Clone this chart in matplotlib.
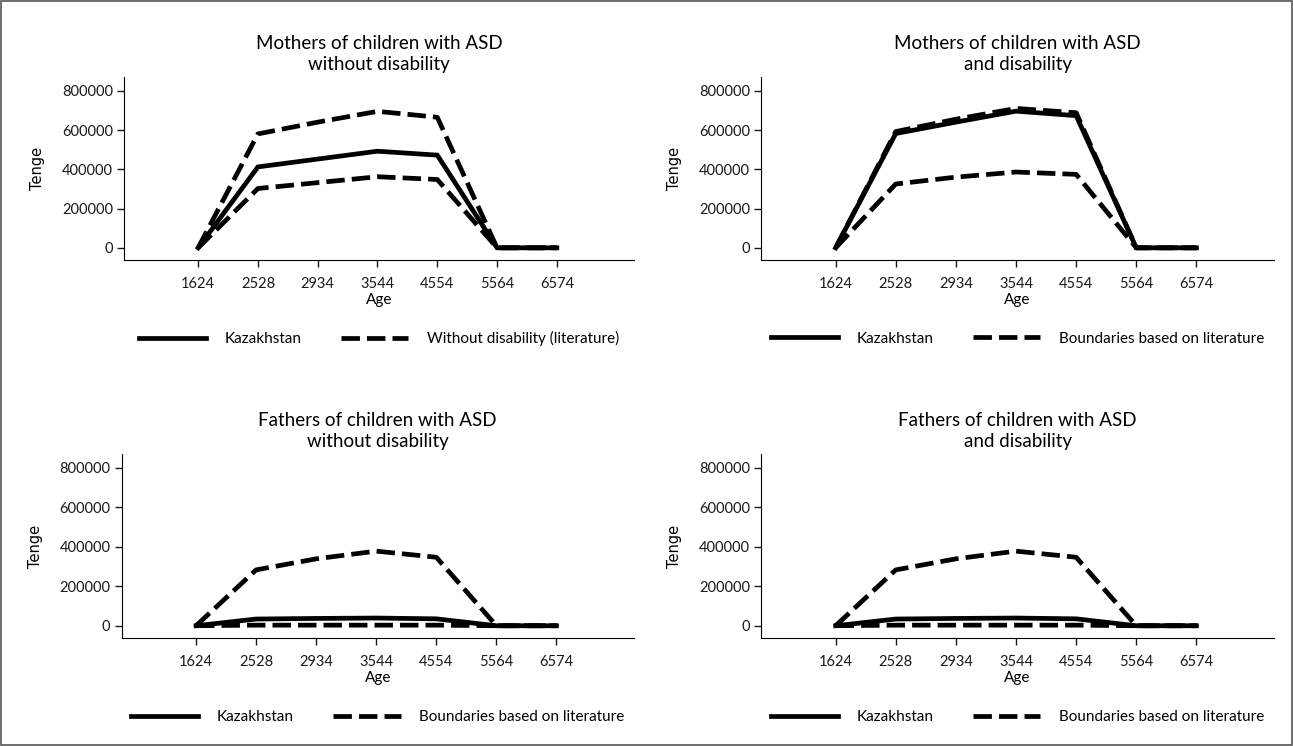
import matplotlib
matplotlib.use("Agg")
import matplotlib.pyplot as plt
from matplotlib.patches import Rectangle

plt.rcParams['font.family'] = ['Lato', 'DejaVu Sans']

ages = ['1624', '2528', '2934', '3544', '4554', '5564', '6574']

# Mothers, without disability
m_wo_kaz = [0, 412000, 452000, 492000, 472000, 0, 0]
m_wo_hi = [0, 580000, 640000, 695000, 665000, 0, 0]
m_wo_lo = [0, 302000, 332000, 362000, 348000, 0, 0]

# Mothers, with disability
m_w_kaz = [0, 582000, 640000, 696000, 673000, 0, 0]
m_w_hi = [0, 592000, 655000, 710000, 688000, 0, 0]
m_w_lo = [0, 325000, 360000, 386000, 374000, 0, 0]

# Fathers, without disability
f_wo_kaz = [0, 34000, 37000, 39000, 35000, 0, 0]
f_wo_hi = [0, 283000, 339000, 378000, 347000, 0, 0]
f_wo_lo = [0, 3000, 3000, 3000, 3000, 0, 0]

# Fathers, with disability
f_w_kaz = [0, 34000, 37000, 39000, 35000, 0, 0]
f_w_hi = [0, 283000, 339000, 378000, 347000, 0, 0]
f_w_lo = [0, 3000, 3000, 3000, 3000, 0, 0]

panels = [
    ("Mothers of children with ASD\nwithout disability", m_wo_kaz, m_wo_hi, m_wo_lo, "Without disability (literature)"),
    ("Mothers of children with ASD\nand disability", m_w_kaz, m_w_hi, m_w_lo, "Boundaries based on literature"),
    ("Fathers of children with ASD\nwithout disability", f_wo_kaz, f_wo_hi, f_wo_lo, "Boundaries based on literature"),
    ("Fathers of children with ASD\nand disability", f_w_kaz, f_w_hi, f_w_lo, "Boundaries based on literature"),
]

# axes rectangles (left, bottom, width, height) in figure fraction
rects = [
    [0.0959, 0.6515, 0.3944, 0.2453],
    [0.5886, 0.6515, 0.3967, 0.2453],
    [0.0940, 0.1448, 0.3963, 0.2466],
    [0.5886, 0.1448, 0.3967, 0.2466],
]

fig = plt.figure(figsize=(12.93, 7.46), dpi=100)
fig.patches.append(Rectangle((0.001, 0.001), 0.998, 0.998, transform=fig.transFigure,
                             fill=False, edgecolor='#555555', lw=1.2))

dash = (0, (3.9, 1.5))
lw = 3.4
x = list(range(len(ages)))

for (title, kaz, hi, lo, lbl), r in zip(panels, rects):
    ax = fig.add_axes(r)
    p1, = ax.plot(x, kaz, color='black', lw=lw, solid_joinstyle='miter')
    p2, = ax.plot(x, hi, color='black', lw=lw, linestyle=dash)
    ax.plot(x, lo, color='black', lw=lw, linestyle=dash)
    ax.set_xlim(-1.24, 7.29)
    ax.set_ylim(-62000, 870000)
    ax.set_xticks(x)
    ax.set_xticklabels(ages)
    ax.set_yticks([0, 200000, 400000, 600000, 800000])
    ax.set_yticklabels(['0', '200000', '400000', '600000', '800000'])
    ax.spines['top'].set_visible(False)
    ax.spines['right'].set_visible(False)
    ax.tick_params(labelsize=10.5, length=5, width=1, pad=3, colors='#1a1a1a')
    ax.tick_params(axis='x', pad=7)
    ax.set_xlabel('Age', fontsize=11, labelpad=2)
    ax.set_ylabel('Tenge', fontsize=10.5, labelpad=12, family=['DejaVu Sans'])
    ax.set_title(title, fontsize=13.5, pad=5, linespacing=1.3)
    ax.legend([p1, p2], ['Kazakhstan', lbl], loc='center', bbox_to_anchor=(0.5, -0.43),
              ncol=2, frameon=False, fontsize=11, handlelength=4.4,
              handletextpad=1.2, columnspacing=2.6)

fig.savefig('out.png', dpi=100)
